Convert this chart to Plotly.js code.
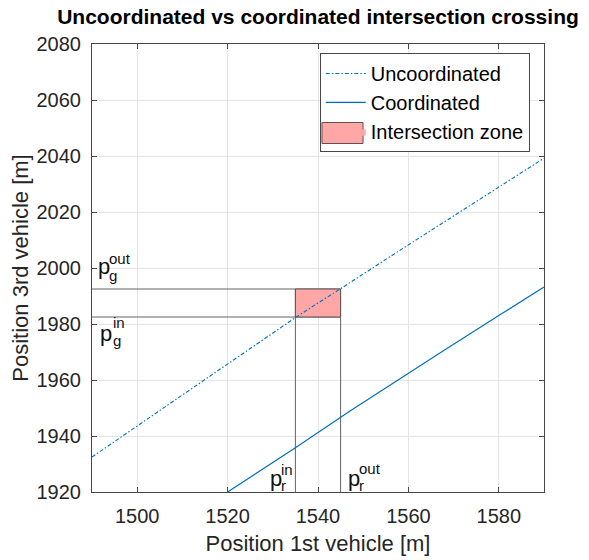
<!DOCTYPE html>
<html>
<head>
<meta charset="utf-8">
<script src="https://cdn.plot.ly/plotly-3.0.1.min.js"></script>
<style>html,body{margin:0;padding:0;background:#fff;}#chart{width:589px;height:560px;}</style>
</head>
<body>
<div id="chart"></div>
<script>
// ---- data ----
var uncX = [1490, 1500, 1510, 1520, 1530, 1535, 1540, 1545, 1558, 1570, 1580, 1590];
var uncY = [1932.5, 1943.6, 1954.6, 1965.6, 1976.6, 1982.3, 1987.5, 1992.6, 2006.2, 2018.6, 2028.8, 2039.2];
var coordX = [1520, 1535, 1547, 1558, 1568, 1580, 1590];
var coordY = [1920, 1935.8, 1948.8, 1960.4, 1970.7, 1983, 1993.2];
var zoneXmin = 1535, zoneXmax = 1545;
var zoneYmin = 1982.5, zoneYmax = 1992.5;
var xRange = [1490, 1590];
var yRange = [1920, 2080];
var xTicks = [1500, 1520, 1540, 1560, 1580];
var yTicks = [1920, 1940, 1960, 1980, 2000, 2020, 2040, 2060, 2080];
var seriesNames = ['Uncoordinated', 'Coordinated', 'Intersection zone'];

var blue = 'rgb(0,114,189)';
var guide = 'rgb(100,100,100)';
var pink = 'rgb(255,166,166)';
var zoneEdge = 'rgb(95,80,80)';
var font = 'Liberation Sans, Arial, Helvetica, sans-serif';

var zx = [zoneXmin, zoneXmax, zoneXmax, zoneXmin, zoneXmin];
var zy = [zoneYmin, zoneYmin, zoneYmax, zoneYmax, zoneYmin];

var traces = [
  // guide lines
  {x: [xRange[0], zoneXmax], y: [zoneYmax, zoneYmax], mode: 'lines', line: {color: guide, width: 1}, showlegend: false, hoverinfo: 'skip'},
  {x: [xRange[0], zoneXmax], y: [zoneYmin, zoneYmin], mode: 'lines', line: {color: guide, width: 1}, showlegend: false, hoverinfo: 'skip'},
  {x: [zoneXmin, zoneXmin], y: [yRange[0], zoneYmax], mode: 'lines', line: {color: guide, width: 1}, showlegend: false, hoverinfo: 'skip'},
  {x: [zoneXmax, zoneXmax], y: [yRange[0], zoneYmax], mode: 'lines', line: {color: guide, width: 1}, showlegend: false, hoverinfo: 'skip'},
  // intersection zone (fill) and its edge
  {x: zx, y: zy, mode: 'lines', fill: 'toself', fillcolor: pink, line: {color: pink, width: 0},
   name: seriesNames[2], legendrank: 3},
  {x: zx, y: zy, mode: 'lines', line: {color: zoneEdge, width: 1}, showlegend: false, hoverinfo: 'skip'},
  {x: uncX, y: uncY, mode: 'lines', line: {color: blue, width: 1.1, dash: '4px,2px,1.5px,2px'}, name: seriesNames[0], legendrank: 1},
  {x: coordX, y: coordY, mode: 'lines', line: {color: blue, width: 1.2}, name: seriesNames[1], legendrank: 2}
];

function ann(text, x, y, size) {
  return {text: text, x: x, y: y, xref: 'x', yref: 'y', xanchor: 'left', yanchor: 'middle', showarrow: false,
          font: {family: font, size: size, color: '#111'}};
}
var pSize = 22, sSize = 15;
var annotations = [
  ann('p', 1490.9, 2000.5, pSize), ann('out', 1493.3, 2003.4, sSize), ann('g', 1493.3, 1997.5, sSize),
  ann('p', 1491.3, 1976.6, pSize), ann('in', 1494.2, 1980.5, sSize), ann('g', 1494.2, 1974.1, sSize),
  ann('p', 1528.9, 1925.0, pSize), ann('in', 1531.4, 1928.1, sSize), ann('r', 1531.4, 1922.2, sSize),
  ann('p', 1546.2, 1925.0, pSize), ann('out', 1548.6, 1928.3, sSize), ann('r', 1548.6, 1922.2, sSize)
];

var axisCommon = {
  showgrid: true, gridcolor: 'rgb(228,228,228)', gridwidth: 1,
  zeroline: false, showline: true, linecolor: 'rgb(70,70,70)', linewidth: 1, mirror: 'ticks',
  ticks: 'inside', ticklen: 5, tickcolor: 'rgb(70,70,70)', tickwidth: 1, ticklabelstandoff: 6,
  tickfont: {family: font, size: 20, color: '#262626'}
};

var layout = {
  width: 589, height: 560,
  margin: {l: 92, r: 45, t: 44, b: 68},
  paper_bgcolor: '#fff', plot_bgcolor: '#fff',
  title: {text: 'Uncoordinated vs coordinated intersection crossing', font: {family: font, size: 21, color: '#000', weight: 'bold'},
          x: 0.5, xanchor: 'center', y: 0.97, yanchor: 'middle', xref: 'paper'},
  xaxis: Object.assign({}, axisCommon, {range: xRange, tickvals: xTicks, ticktext: xTicks.map(String),
          title: {text: 'Position 1st vehicle [m]', font: {family: font, size: 22, color: '#262626'}, standoff: 9}}),
  yaxis: Object.assign({}, axisCommon, {range: yRange, tickvals: yTicks, ticktext: yTicks.map(String),
          title: {text: 'Position 3rd vehicle [m]', font: {family: font, size: 22, color: '#262626'}, standoff: 1}}),
  legend: {x: 0.504, y: 0.98, xanchor: 'left', yanchor: 'top', bgcolor: 'rgba(0,0,0,0)', bordercolor: 'rgb(70,70,70)', borderwidth: 1,
           font: {family: font, size: 20, color: '#000'}, traceorder: 'normal', itemwidth: 40, tracegroupgap: 0},
  shapes: [
    {type: 'rect', xref: 'paper', yref: 'paper', x0: 0.505, x1: 0.968, y0: 0.76, y1: 0.978, layer: 'above',
     fillcolor: '#fff', line: {width: 0}},
    {type: 'rect', xref: 'paper', yref: 'paper', x0: 0.5088, x1: 0.5996, y0: 0.7779, y1: 0.8248, layer: 'above',
     fillcolor: pink, line: {color: zoneEdge, width: 1}}
  ],
  annotations: annotations,
  showlegend: true
};

Plotly.newPlot('chart', traces, layout, {displayModeBar: false, staticPlot: true});
</script>
</body>
</html>
